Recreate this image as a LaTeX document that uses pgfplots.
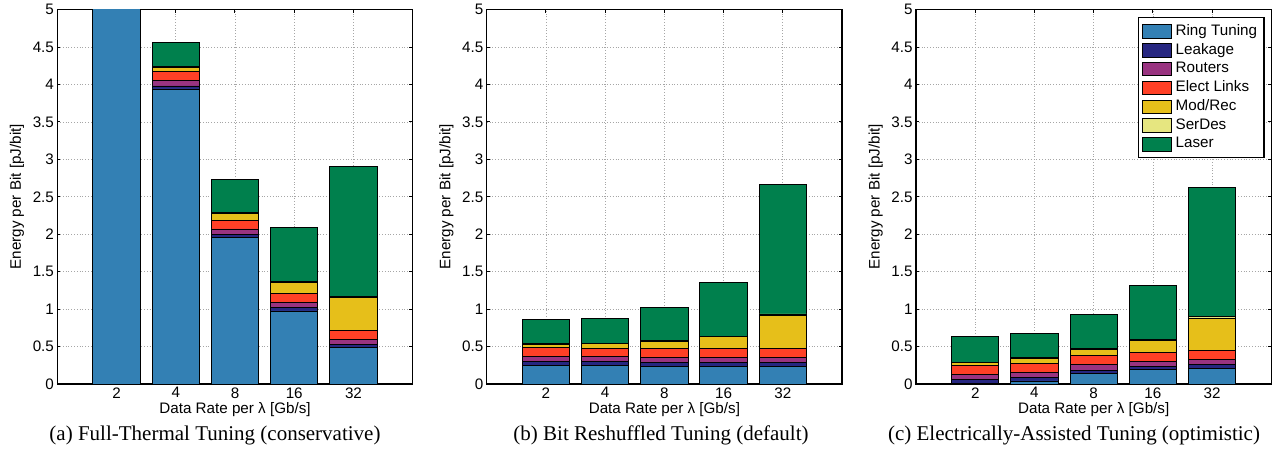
\documentclass[border=0pt]{standalone}
\usepackage{fontspec}
\setmainfont{Liberation Serif}
\setsansfont{Liberation Sans}
\usepackage{pgfplots}
\usepackage{pgfplotstable}
\pgfplotsset{compat=1.18}

\definecolor{cRing}{RGB}{51,128,180}
\definecolor{cLeak}{RGB}{38,38,128}
\definecolor{cRout}{RGB}{153,51,128}
\definecolor{cElec}{RGB}{255,64,38}
\definecolor{cMod}{RGB}{230,191,26}
\definecolor{cSer}{RGB}{230,230,128}
\definecolor{cLaser}{RGB}{0,128,77}

% x: 1..5 = 2,4,8,16,32 Gb/s
\pgfplotstableread{
x ring  leak  routers elect modrec serdes laser
1 7.000 0.045 0.070   0.120 0.050  0.005  0.300
2 3.940 0.040 0.070   0.120 0.060  0.010  0.320
3 1.955 0.045 0.070   0.120 0.085  0.010  0.445
4 0.975 0.045 0.070   0.120 0.145  0.015  0.720
5 0.485 0.045 0.070   0.120 0.435  0.020  1.725
}\thermal

\pgfplotstableread{
x ring  leak  routers elect modrec serdes laser
1 0.250 0.045 0.070   0.120 0.045  0.005  0.330
2 0.245 0.050 0.070   0.115 0.060  0.005  0.335
3 0.240 0.050 0.070   0.115 0.090  0.010  0.450
4 0.240 0.045 0.070   0.120 0.155  0.010  0.720
5 0.240 0.045 0.070   0.115 0.445  0.020  1.730
}\reshuffled

\pgfplotstableread{
x ring  leak  routers elect modrec serdes laser
1 0.010 0.045 0.070   0.125 0.035  0.005  0.340
2 0.040 0.050 0.070   0.120 0.065  0.005  0.330
3 0.135 0.050 0.070   0.120 0.090  0.010  0.455
4 0.190 0.045 0.070   0.120 0.155  0.010  0.720
5 0.205 0.050 0.070   0.120 0.435  0.020  1.730
}\assisted

\newcommand{\axfont}{\sffamily\fontsize{7.6}{9}\selectfont}

\pgfplotsset{
  panel/.style={
    scale only axis, width=177.7pt, height=187.2pt,
    anchor=south west,
    ybar stacked, bar width=0.8,
    xmin=0, xmax=6, ymin=0, ymax=5,
    xtick={1,2,3,4,5}, xticklabels={2,4,8,16,32},
    ytick={0,0.5,...,5},
    grid=major, grid style={densely dotted, gray!70, line width=0.4pt},
    major tick length=1.6pt,
    tick style={black, line width=0.5pt},
    axis line style={line width=0.6pt},
    font=\axfont,
    tick label style={font=\axfont, inner sep=1.5pt},
    /pgf/number format/assume math mode=true,
    xlabel={Data Rate per λ [Gb/s]},
    ylabel={Energy per Bit [pJ/bit]},
    xlabel style={at={(axis description cs:0.5,-0.0695)}, anchor=center},
    ylabel style={at={(axis description cs:-0.1135,0.5)}, anchor=center},
    every axis plot/.append style={draw=black, line width=0.45pt},
  },
}

\newcommand{\stackbars}[1]{%
  \addplot[fill=cRing]  table[x=x,y=ring]{#1};
  \addplot[fill=cLeak]  table[x=x,y=leak]{#1};
  \addplot[fill=cRout]  table[x=x,y=routers]{#1};
  \addplot[fill=cElec]  table[x=x,y=elect]{#1};
  \addplot[fill=cMod]   table[x=x,y=modrec]{#1};
  \addplot[fill=cSer]   table[x=x,y=serdes]{#1};
  \addplot[fill=cLaser] table[x=x,y=laser]{#1};
}

\begin{document}
\begin{tikzpicture}
\useasboundingbox (0,0) rectangle (638pt,230pt);

\begin{axis}[panel, at={(28.65pt,38pt)}]
\stackbars{\thermal}
\end{axis}

\begin{axis}[panel, at={(243.35pt,38pt)}]
\stackbars{\reshuffled}
\end{axis}

\begin{axis}[panel, at={(458pt,38pt)},
  legend style={at={(0.981,0.981)}, anchor=north east, draw=black,
    line width=0.6pt, font=\axfont, inner sep=1.5pt, row sep=-1.5pt,
    cells={anchor=west}},
  legend image code/.code={\draw[#1,draw=black] (0pt,-3.4pt) rectangle (14.5pt,3.4pt);},
]
\stackbars{\assisted}
\legend{Ring Tuning,Leakage,Routers,Elect Links,Mod/Rec,SerDes,Laser}
\end{axis}

\node[anchor=base, font=\fontsize{10.5}{12}\selectfont] at (107.5pt,9.5pt) {(a) Full-Thermal Tuning (conservative)};
\node[anchor=base, font=\fontsize{10.5}{12}\selectfont] at (330.5pt,9.5pt) {(b) Bit Reshuffled Tuning (default)};
\node[anchor=base, font=\fontsize{10.5}{12}\selectfont] at (537pt,9.5pt) {(c) Electrically-Assisted Tuning (optimistic)};
\end{tikzpicture}
\end{document}
